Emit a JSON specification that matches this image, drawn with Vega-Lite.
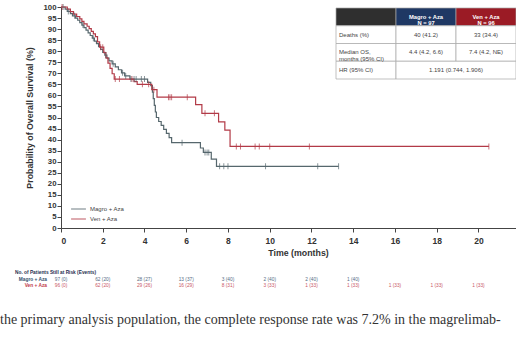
{
  "$schema": "https://vega.github.io/schema/vega-lite/v6.json",
  "autosize": {"type": "none"},
  "padding": {"left": 61, "top": 7, "right": 0, "bottom": 109},
  "width": 455,
  "height": 221,
  "background": "white",
  "config": {"font": "Liberation Sans", "view": {"stroke": null}},
  "title": {
    "text": "the primary analysis population, the complete response rate was 7.2% in the magrelimab-",
    "orient": "bottom", "anchor": "start", "frame": "group",
    "font": "Liberation Serif", "fontSize": 14, "fontWeight": "normal", "color": "#333333",
    "dx": -61, "offset": 25
  },
  "datasets": {
    "curves": [
      {"arm": "Magro + Aza", "t": 0, "s": 100}, {"arm": "Magro + Aza", "t": 0.2, "s": 99}, {"arm": "Magro + Aza", "t": 0.3, "s": 98},
      {"arm": "Magro + Aza", "t": 0.45, "s": 97}, {"arm": "Magro + Aza", "t": 0.55, "s": 96}, {"arm": "Magro + Aza", "t": 0.7, "s": 95},
      {"arm": "Magro + Aza", "t": 0.8, "s": 94}, {"arm": "Magro + Aza", "t": 0.9, "s": 92.9}, {"arm": "Magro + Aza", "t": 1.0, "s": 91.8},
      {"arm": "Magro + Aza", "t": 1.1, "s": 90.7}, {"arm": "Magro + Aza", "t": 1.2, "s": 89.5}, {"arm": "Magro + Aza", "t": 1.3, "s": 88.3},
      {"arm": "Magro + Aza", "t": 1.4, "s": 87.1}, {"arm": "Magro + Aza", "t": 1.5, "s": 85.9}, {"arm": "Magro + Aza", "t": 1.6, "s": 84.6},
      {"arm": "Magro + Aza", "t": 1.7, "s": 83.4}, {"arm": "Magro + Aza", "t": 1.8, "s": 82.1}, {"arm": "Magro + Aza", "t": 1.9, "s": 80.8},
      {"arm": "Magro + Aza", "t": 2.0, "s": 79.5}, {"arm": "Magro + Aza", "t": 2.1, "s": 78.2}, {"arm": "Magro + Aza", "t": 2.2, "s": 76.9},
      {"arm": "Magro + Aza", "t": 2.3, "s": 75.6}, {"arm": "Magro + Aza", "t": 2.45, "s": 74.3}, {"arm": "Magro + Aza", "t": 2.6, "s": 72.9},
      {"arm": "Magro + Aza", "t": 2.75, "s": 71.6}, {"arm": "Magro + Aza", "t": 2.9, "s": 70.2}, {"arm": "Magro + Aza", "t": 3.05, "s": 68.8},
      {"arm": "Magro + Aza", "t": 3.3, "s": 67.4}, {"arm": "Magro + Aza", "t": 4.15, "s": 65.9}, {"arm": "Magro + Aza", "t": 4.3, "s": 64.4},
      {"arm": "Magro + Aza", "t": 4.38, "s": 61.5}, {"arm": "Magro + Aza", "t": 4.42, "s": 58.5}, {"arm": "Magro + Aza", "t": 4.47, "s": 55.5},
      {"arm": "Magro + Aza", "t": 4.52, "s": 52.5}, {"arm": "Magro + Aza", "t": 4.57, "s": 50}, {"arm": "Magro + Aza", "t": 4.68, "s": 48.2},
      {"arm": "Magro + Aza", "t": 4.8, "s": 46.4}, {"arm": "Magro + Aza", "t": 4.92, "s": 44.6}, {"arm": "Magro + Aza", "t": 5.05, "s": 42.8},
      {"arm": "Magro + Aza", "t": 5.18, "s": 40.9}, {"arm": "Magro + Aza", "t": 5.3, "s": 38.6}, {"arm": "Magro + Aza", "t": 6.68, "s": 36.2},
      {"arm": "Magro + Aza", "t": 6.82, "s": 34.2}, {"arm": "Magro + Aza", "t": 7.2, "s": 31.2}, {"arm": "Magro + Aza", "t": 7.45, "s": 27.9},
      {"arm": "Magro + Aza", "t": 13.3, "s": 27.9},
      {"arm": "Ven + Aza", "t": 0, "s": 100}, {"arm": "Ven + Aza", "t": 0.3, "s": 99}, {"arm": "Ven + Aza", "t": 0.45, "s": 97.9},
      {"arm": "Ven + Aza", "t": 0.6, "s": 96.8}, {"arm": "Ven + Aza", "t": 0.75, "s": 95.7}, {"arm": "Ven + Aza", "t": 0.9, "s": 94.6},
      {"arm": "Ven + Aza", "t": 1.0, "s": 93.5}, {"arm": "Ven + Aza", "t": 1.1, "s": 92.4}, {"arm": "Ven + Aza", "t": 1.25, "s": 91.3},
      {"arm": "Ven + Aza", "t": 1.35, "s": 90.2}, {"arm": "Ven + Aza", "t": 1.45, "s": 89}, {"arm": "Ven + Aza", "t": 1.55, "s": 87.8},
      {"arm": "Ven + Aza", "t": 1.65, "s": 86.6}, {"arm": "Ven + Aza", "t": 1.75, "s": 84.2}, {"arm": "Ven + Aza", "t": 1.85, "s": 81.8},
      {"arm": "Ven + Aza", "t": 2.05, "s": 79.4}, {"arm": "Ven + Aza", "t": 2.15, "s": 77}, {"arm": "Ven + Aza", "t": 2.25, "s": 74.6},
      {"arm": "Ven + Aza", "t": 2.35, "s": 72.2}, {"arm": "Ven + Aza", "t": 2.45, "s": 69.8}, {"arm": "Ven + Aza", "t": 2.55, "s": 67.4},
      {"arm": "Ven + Aza", "t": 3.5, "s": 66.2}, {"arm": "Ven + Aza", "t": 3.65, "s": 65}, {"arm": "Ven + Aza", "t": 4.35, "s": 62.6},
      {"arm": "Ven + Aza", "t": 4.6, "s": 59.2}, {"arm": "Ven + Aza", "t": 6.45, "s": 55.8}, {"arm": "Ven + Aza", "t": 6.75, "s": 51.9},
      {"arm": "Ven + Aza", "t": 7.55, "s": 48.0}, {"arm": "Ven + Aza", "t": 7.85, "s": 44.3}, {"arm": "Ven + Aza", "t": 8.1, "s": 36.9},
      {"arm": "Ven + Aza", "t": 20.5, "s": 36.9}
    ],
    "censors": [
      {"arm": "Magro + Aza", "t": 0.1, "s": 100}, {"arm": "Magro + Aza", "t": 0.35, "s": 98}, {"arm": "Magro + Aza", "t": 0.65, "s": 96},
      {"arm": "Magro + Aza", "t": 1.05, "s": 91.8}, {"arm": "Magro + Aza", "t": 1.55, "s": 85.9}, {"arm": "Magro + Aza", "t": 2.15, "s": 78.2},
      {"arm": "Magro + Aza", "t": 2.5, "s": 74.3}, {"arm": "Magro + Aza", "t": 2.95, "s": 70.2}, {"arm": "Magro + Aza", "t": 3.1, "s": 68.8},
      {"arm": "Magro + Aza", "t": 3.35, "s": 67.4}, {"arm": "Magro + Aza", "t": 3.5, "s": 67.4}, {"arm": "Magro + Aza", "t": 3.6, "s": 67.4},
      {"arm": "Magro + Aza", "t": 3.85, "s": 67.4}, {"arm": "Magro + Aza", "t": 4.0, "s": 67.4}, {"arm": "Magro + Aza", "t": 5.8, "s": 38.6},
      {"arm": "Magro + Aza", "t": 6.9, "s": 34.2}, {"arm": "Magro + Aza", "t": 7.0, "s": 34.2}, {"arm": "Magro + Aza", "t": 7.08, "s": 34.2},
      {"arm": "Magro + Aza", "t": 7.6, "s": 27.9}, {"arm": "Magro + Aza", "t": 7.8, "s": 27.9}, {"arm": "Magro + Aza", "t": 8.0, "s": 27.9},
      {"arm": "Magro + Aza", "t": 9.8, "s": 27.9}, {"arm": "Magro + Aza", "t": 12.3, "s": 27.9}, {"arm": "Magro + Aza", "t": 13.3, "s": 27.9},
      {"arm": "Ven + Aza", "t": 0.05, "s": 100}, {"arm": "Ven + Aza", "t": 1.9, "s": 81.8}, {"arm": "Ven + Aza", "t": 2.0, "s": 81.8},
      {"arm": "Ven + Aza", "t": 2.6, "s": 67.4}, {"arm": "Ven + Aza", "t": 2.8, "s": 67.4}, {"arm": "Ven + Aza", "t": 3.4, "s": 67.4},
      {"arm": "Ven + Aza", "t": 3.9, "s": 65}, {"arm": "Ven + Aza", "t": 4.2, "s": 65}, {"arm": "Ven + Aza", "t": 4.45, "s": 62.6},
      {"arm": "Ven + Aza", "t": 5.15, "s": 59.2}, {"arm": "Ven + Aza", "t": 5.22, "s": 59.2}, {"arm": "Ven + Aza", "t": 5.3, "s": 59.2},
      {"arm": "Ven + Aza", "t": 6.05, "s": 59.2}, {"arm": "Ven + Aza", "t": 6.9, "s": 51.9}, {"arm": "Ven + Aza", "t": 7.35, "s": 51.9},
      {"arm": "Ven + Aza", "t": 8.4, "s": 36.9}, {"arm": "Ven + Aza", "t": 8.6, "s": 36.9}, {"arm": "Ven + Aza", "t": 9.3, "s": 36.9},
      {"arm": "Ven + Aza", "t": 9.5, "s": 36.9}, {"arm": "Ven + Aza", "t": 10.0, "s": 36.9}, {"arm": "Ven + Aza", "t": 11.9, "s": 36.9},
      {"arm": "Ven + Aza", "t": 20.5, "s": 36.9}
    ],
    "risk": [
      {"arm": "Magro + Aza", "t": 0, "txt": "97 (0)"}, {"arm": "Magro + Aza", "t": 2, "txt": "62 (20)"}, {"arm": "Magro + Aza", "t": 4, "txt": "28 (27)"},
      {"arm": "Magro + Aza", "t": 6, "txt": "13 (37)"}, {"arm": "Magro + Aza", "t": 8, "txt": "3 (40)"}, {"arm": "Magro + Aza", "t": 10, "txt": "2 (40)"},
      {"arm": "Magro + Aza", "t": 12, "txt": "2 (40)"}, {"arm": "Magro + Aza", "t": 14, "txt": "1 (40)"},
      {"arm": "Ven + Aza", "t": 0, "txt": "96 (0)"}, {"arm": "Ven + Aza", "t": 2, "txt": "62 (20)"}, {"arm": "Ven + Aza", "t": 4, "txt": "29 (26)"},
      {"arm": "Ven + Aza", "t": 6, "txt": "16 (29)"}, {"arm": "Ven + Aza", "t": 8, "txt": "8 (31)"}, {"arm": "Ven + Aza", "t": 10, "txt": "3 (33)"},
      {"arm": "Ven + Aza", "t": 12, "txt": "1 (33)"}, {"arm": "Ven + Aza", "t": 14, "txt": "1 (33)"}, {"arm": "Ven + Aza", "t": 16, "txt": "1 (33)"},
      {"arm": "Ven + Aza", "t": 18, "txt": "1 (33)"}, {"arm": "Ven + Aza", "t": 20, "txt": "1 (33)"}
    ],
    "cells": [
      {"row": "header", "c0": "label", "c1": "label", "kind": "hdrL"},
      {"row": "header", "c0": "magro", "c1": "magro", "kind": "hdrM"},
      {"row": "header", "c0": "ven", "c1": "ven", "kind": "hdrV"},
      {"row": "deaths", "c0": "label", "c1": "label", "kind": "body"},
      {"row": "deaths", "c0": "magro", "c1": "magro", "kind": "body"},
      {"row": "deaths", "c0": "ven", "c1": "ven", "kind": "body"},
      {"row": "median", "c0": "label", "c1": "label", "kind": "body"},
      {"row": "median", "c0": "magro", "c1": "magro", "kind": "body"},
      {"row": "median", "c0": "ven", "c1": "ven", "kind": "body"},
      {"row": "hr", "c0": "label", "c1": "label", "kind": "body"},
      {"row": "hr", "c0": "magro", "c1": "ven", "kind": "body"}
    ],
    "celltext": [
      {"row": "header", "col": "magro", "txt": "Magro + Aza\nN = 97", "kind": "head"},
      {"row": "header", "col": "ven", "txt": "Ven + Aza\nN = 96", "kind": "head"},
      {"row": "deaths", "col": "label", "txt": "Deaths (%)", "kind": "label"},
      {"row": "deaths", "col": "magro", "txt": "40 (41.2)", "kind": "value"},
      {"row": "deaths", "col": "ven", "txt": "33 (34.4)", "kind": "value"},
      {"row": "median", "col": "label", "txt": "Median OS,\nmonths (95% CI)", "kind": "label"},
      {"row": "median", "col": "magro", "txt": "4.4 (4.2, 6.6)", "kind": "value"},
      {"row": "median", "col": "ven", "txt": "7.4 (4.2, NE)", "kind": "value"},
      {"row": "hr", "col": "label", "txt": "HR (95% CI)", "kind": "label"},
      {"row": "hr", "col": "magro", "txt": "1.191 (0.744, 1.906)", "kind": "span"}
    ]
  },
  "resolve": {"scale": {"x": "independent", "y": "independent", "color": "independent"}},
  "layer": [
    {
      "layer": [
        {
          "data": {"name": "curves"},
          "mark": {"type": "line", "interpolate": "step-after", "strokeWidth": 1.2},
          "encoding": {
            "x": {"field": "t", "type": "quantitative", "scale": {"domain": [0, 21.8], "nice": false},
              "axis": {"values": [0, 2, 4, 6, 8, 10, 12, 14, 16, 18, 20], "title": "Time (months)", "grid": false,
                "labelFontSize": 8.5, "labelFontWeight": "bold", "labelColor": "#333333", "labelPadding": 4,
                "tickSize": 4, "tickColor": "#444444", "domainColor": "#444444",
                "titleFontSize": 8.8, "titleFontWeight": "bold", "titleColor": "#333333", "titlePadding": 4, "titleX": 237}},
            "y": {"field": "s", "type": "quantitative", "scale": {"domain": [0, 100], "nice": false},
              "axis": {"values": [0, 5, 10, 15, 20, 25, 30, 35, 40, 45, 50, 55, 60, 65, 70, 75, 80, 85, 90, 95, 100],
                "title": "Probability of Overall Survival (%)", "grid": false, "labelOverlap": false,
                "labelFontSize": 7.8, "labelFontWeight": "bold", "labelColor": "#333333", "labelPadding": 1,
                "tickSize": 4, "tickColor": "#444444", "domainColor": "#444444",
                "titleFontSize": 8.8, "titleFontWeight": "bold", "titleColor": "#333333", "titlePadding": 8}},
            "color": {"field": "arm", "type": "nominal",
              "scale": {"domain": ["Magro + Aza", "Ven + Aza"], "range": ["#56676d", "#b23a47"]},
              "legend": {"title": null, "orient": "none", "legendX": 9, "legendY": 197, "symbolType": "stroke",
                "symbolSize": 220, "symbolStrokeWidth": 1.2, "labelFontSize": 6, "labelColor": "#444444",
                "rowPadding": 0, "clipHeight": 10, "labelOffset": 3}}
          }
        },
        {
          "data": {"name": "censors"},
          "mark": {"type": "tick", "orient": "vertical", "size": 6, "thickness": 1},
          "encoding": {
            "x": {"field": "t", "type": "quantitative",
              "axis": {"values": [0, 2, 4, 6, 8, 10, 12, 14, 16, 18, 20], "title": "Time (months)", "grid": false,
                "labelFontSize": 8.5, "labelFontWeight": "bold", "labelColor": "#333333", "labelPadding": 4,
                "tickSize": 4, "tickColor": "#444444", "domainColor": "#444444",
                "titleFontSize": 8.8, "titleFontWeight": "bold", "titleColor": "#333333", "titlePadding": 4, "titleX": 237}},
            "y": {"field": "s", "type": "quantitative",
              "axis": {"values": [0, 5, 10, 15, 20, 25, 30, 35, 40, 45, 50, 55, 60, 65, 70, 75, 80, 85, 90, 95, 100],
                "title": "Probability of Overall Survival (%)", "grid": false, "labelOverlap": false,
                "labelFontSize": 7.8, "labelFontWeight": "bold", "labelColor": "#333333", "labelPadding": 1,
                "tickSize": 4, "tickColor": "#444444", "domainColor": "#444444",
                "titleFontSize": 8.8, "titleFontWeight": "bold", "titleColor": "#333333", "titlePadding": 8}},
            "color": {"field": "arm", "type": "nominal"}
          }
        }
      ]
    },
    {
      "layer": [
        {
          "data": {"name": "risk"},
          "mark": {"type": "text", "fontSize": 4.8, "align": "center", "baseline": "middle", "opacity": 0.85},
          "encoding": {
            "x": {"field": "t", "type": "quantitative", "scale": {"domain": [0, 21.8], "nice": false}, "axis": null},
            "y": {"field": "arm", "type": "nominal", "scale": {"type": "point", "domain": ["head", "Magro + Aza", "Ven + Aza"], "range": [266, 279], "padding": 0}, "axis": null},
            "text": {"field": "txt"},
            "color": {"field": "arm", "type": "nominal", "scale": {"domain": ["head", "Magro + Aza", "Ven + Aza"], "range": ["#1f3050", "#34506e", "#c0394b"]}, "legend": null}
          }
        },
        {
          "data": {"values": [{"arm": "Magro + Aza"}, {"arm": "Ven + Aza"}]},
          "mark": {"type": "text", "fontSize": 4.8, "fontWeight": "bold", "align": "right", "baseline": "middle", "dx": -14},
          "encoding": {
            "x": {"datum": 0},
            "y": {"field": "arm", "type": "nominal"},
            "text": {"field": "arm"},
            "color": {"field": "arm", "type": "nominal"}
          }
        },
        {
          "data": {"values": [{"arm": "head", "txt": "No. of Patients Still at Risk (Events)"}]},
          "mark": {"type": "text", "fontSize": 4.8, "fontWeight": "bold", "align": "left", "baseline": "middle", "dx": -46},
          "encoding": {
            "x": {"datum": 0},
            "y": {"field": "arm", "type": "nominal"},
            "text": {"field": "txt"},
            "color": {"field": "arm", "type": "nominal"}
          }
        }
      ]
    },
    {
      "layer": [
        {
          "data": {"name": "cells"},
          "mark": {"type": "rect", "stroke": "#a8a8a8", "strokeWidth": 0.7},
          "encoding": {
            "x": {"field": "c0", "type": "nominal", "bandPosition": 0, "scale": {"type": "band", "domain": ["label", "magro", "ven"], "range": [275, 455], "paddingInner": 0, "paddingOuter": 0}, "axis": null},
            "x2": {"field": "c1", "bandPosition": 1},
            "y": {"field": "row", "type": "nominal", "scale": {"type": "band", "domain": ["header", "deaths", "median", "hr"], "range": [1, 72], "paddingInner": 0, "paddingOuter": 0}, "axis": null},
            "fill": {"field": "kind", "type": "nominal", "scale": {"domain": ["hdrL", "hdrM", "hdrV", "body"], "range": ["#2f2f2f", "#1f3864", "#9b1b25", "#ffffff"]}, "legend": null}
          }
        },
        {
          "data": {"name": "celltext"},
          "transform": [{"filter": "datum.kind === 'label'"}],
          "mark": {"type": "text", "fontSize": 6, "align": "left", "baseline": "middle", "dx": 3, "lineBreak": "\n", "color": "#444444", "lineHeight": 7},
          "encoding": {
            "x": {"field": "col", "type": "nominal", "bandPosition": 0},
            "y": {"field": "row", "type": "nominal", "bandPosition": 0.5},
            "text": {"field": "txt"}
          }
        },
        {
          "data": {"name": "celltext"},
          "transform": [{"filter": "datum.kind === 'value'"}],
          "mark": {"type": "text", "fontSize": 6, "align": "center", "baseline": "middle", "lineBreak": "\n", "color": "#444444"},
          "encoding": {
            "x": {"field": "col", "type": "nominal", "bandPosition": 0.5},
            "y": {"field": "row", "type": "nominal", "bandPosition": 0.5},
            "text": {"field": "txt"}
          }
        },
        {
          "data": {"name": "celltext"},
          "transform": [{"filter": "datum.kind === 'head'"}],
          "mark": {"type": "text", "fontSize": 5.8, "fontWeight": "bold", "align": "center", "baseline": "middle", "lineBreak": "\n", "color": "#ffffff", "lineHeight": 6.5},
          "encoding": {
            "x": {"field": "col", "type": "nominal", "bandPosition": 0.5},
            "y": {"field": "row", "type": "nominal", "bandPosition": 0.5},
            "text": {"field": "txt"}
          }
        },
        {
          "data": {"name": "celltext"},
          "transform": [{"filter": "datum.kind === 'span'"}],
          "mark": {"type": "text", "fontSize": 6, "align": "center", "baseline": "middle", "color": "#444444"},
          "encoding": {
            "x": {"field": "col", "type": "nominal", "bandPosition": 1},
            "y": {"field": "row", "type": "nominal", "bandPosition": 0.5},
            "text": {"field": "txt"}
          }
        }
      ]
    }
  ]
}
